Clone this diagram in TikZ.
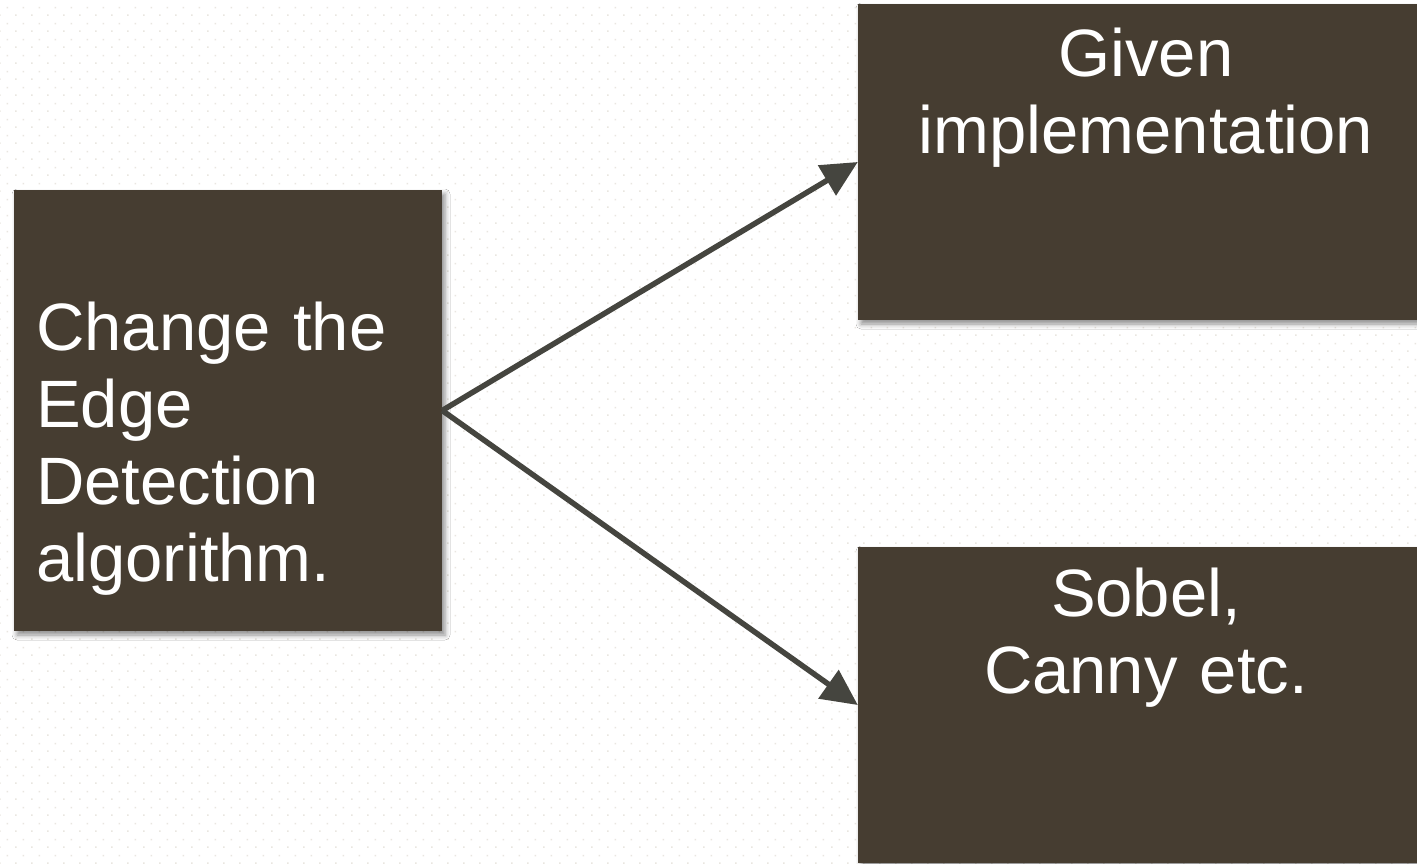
\documentclass[tikz,border=0pt]{standalone}
\usepackage{fontspec}
\setmainfont{Liberation Sans}
\usetikzlibrary{arrows.meta,patterns,shadows.blur}

\definecolor{boxfill}{HTML}{463D31}
\definecolor{arrowc}{HTML}{45453F}
\definecolor{dotc}{HTML}{E9E6E0}

% staggered dot grid for the page background
\pgfdeclarepatternformonly{dotgrid}{\pgfpointorigin}{\pgfpoint{16pt}{16pt}}{\pgfpoint{16pt}{16pt}}{%
  \pgfpathrectangle{\pgfpoint{0pt}{0pt}}{\pgfpoint{1.8pt}{1.8pt}}%
  \pgfpathrectangle{\pgfpoint{8pt}{8pt}}{\pgfpoint{1.8pt}{1.8pt}}%
  \pgfusepath{fill}}

\tikzset{
  darkbox/.style={rectangle, fill=boxfill, draw=none, inner sep=0pt,
    blur shadow={shadow xshift=3pt, shadow yshift=-4pt, shadow blur radius=5pt, shadow opacity=45}},
  boxtext/.style={text=white, inner sep=0pt, font=\fontsize{67}{77}\selectfont},
  link/.style={draw=arrowc, line width=5.5pt, -{Triangle[length=36pt,width=34pt]}}
}

\begin{document}
\begin{tikzpicture}[x=1pt, y=-1pt]
  \useasboundingbox (0,0) rectangle (1417,863);
  \fill[white] (0,0) rectangle (1417,863);
  \fill[pattern=dotgrid, pattern color=dotc] (0,0) rectangle (1417,863);

  % boxes
  \node[darkbox, minimum width=428pt, minimum height=441pt] (src) at (228,410.5) {};
  \node[darkbox, minimum width=576pt, minimum height=316pt] (given) at (1146,162) {};
  \node[darkbox, minimum width=576pt, minimum height=316pt] (sobel) at (1146,705) {};

  % labels
  \node[boxtext, text width=420pt, align=left, anchor=base west] (srctext) at (36,350)
    {Change the\\Edge\\Detection\\algorithm.};
  \node[boxtext, text width=560pt, align=center, anchor=base] (giventext) at (1146,76)
    {Given\\implementation};
  \node[boxtext, text width=560pt, align=center, anchor=base] (sobeltext) at (1146,616)
    {Sobel,\\Canny etc.};

  % connectors
  \draw[link] (src.east) -- (given.west);
  \draw[link] (src.east) -- (sobel.west);
\end{tikzpicture}
\end{document}
